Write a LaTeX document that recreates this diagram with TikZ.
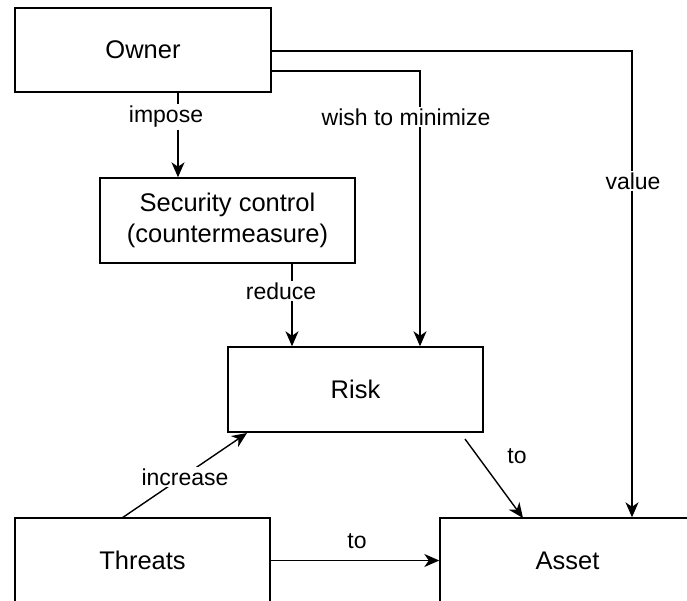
\documentclass[tikz,border=0pt]{standalone}
\usepackage{fontspec}
\setmainfont{Liberation Sans}
\usetikzlibrary{arrows.meta,calc}

\tikzset{
  box/.style={draw=black, line width=1.4pt, fill=white, minimum width=255pt,
              minimum height=85pt, inner sep=0pt, align=center,
              font=\fontsize{25.5}{31}\selectfont},
  link/.style={draw=black, line width=1.4pt,
               -{Stealth[length=15pt,width=13pt,inset=4.5pt]}},
  tag/.style={fill=white, inner sep=2pt, font=\fontsize{23}{27}\selectfont}
}

\begin{document}
\begin{tikzpicture}[x=1pt,y=-1pt]
  \useasboundingbox (0,0) rectangle (687,601);
  \clip (0,0) rectangle (687,601);

  % boxes
  \node[box, minimum width=256pt, minimum height=84pt] (owner) at (143,50) {Owner};
  \node[box] (control) at (227.5,220.5) {Security control\\(countermeasure)};
  \node[box] (risk) at (355.5,389.5) {Risk};
  \node[box] (threats) at (142.5,560.5) {Threats};
  \node[box] (asset) at (567.5,560.5) {Asset};

  % helper points on the box edges
  \coordinate (imposeX) at (178,0);
  \coordinate (reduceX) at (292,0);
  \coordinate (wishY) at (0,71);
  \coordinate (wishX) at (420,0);
  \coordinate (valueY) at (0,51);
  \coordinate (valueX) at (632,0);
  \coordinate (riskOut) at (465,439);
  \coordinate (assetIn) at (523,518);
  \coordinate (threatOut) at (122,518);
  \coordinate (riskIn) at (247,433);

  % owner imposes controls
  \draw[link] (owner.south -| imposeX) -- (control.north -| imposeX);
  \node[tag] (limpose) at (166,117) {impose};

  % owner wishes to minimize risk
  \draw[link] (owner.east |- wishY) -| (risk.north -| wishX);
  \node[tag] (lwish) at (406,117) {wish to minimize};

  % owner values the asset
  \draw[link] (owner.east |- valueY) -| (asset.north -| valueX);
  \node[tag] (lvalue) at (633,181) {value};

  % controls reduce risk
  \draw[link] (control.south -| reduceX) -- (risk.north -| reduceX);
  \node[tag] (lreduce) at (281,291) {reduce};

  % risk to asset
  \draw[link] (riskOut) -- (assetIn);
  \node[tag, fill=none] (lrisk) at (517,456) {to};

  % threats increase risk
  \draw[link] (threatOut) -- (riskIn);
  \node[tag] (lincrease) at (185,477) {increase};

  % threats to asset
  \draw[link] (threats.east) -- (asset.west);
  \node[tag, fill=none] (lthreat) at (357,541) {to};
\end{tikzpicture}
\end{document}
